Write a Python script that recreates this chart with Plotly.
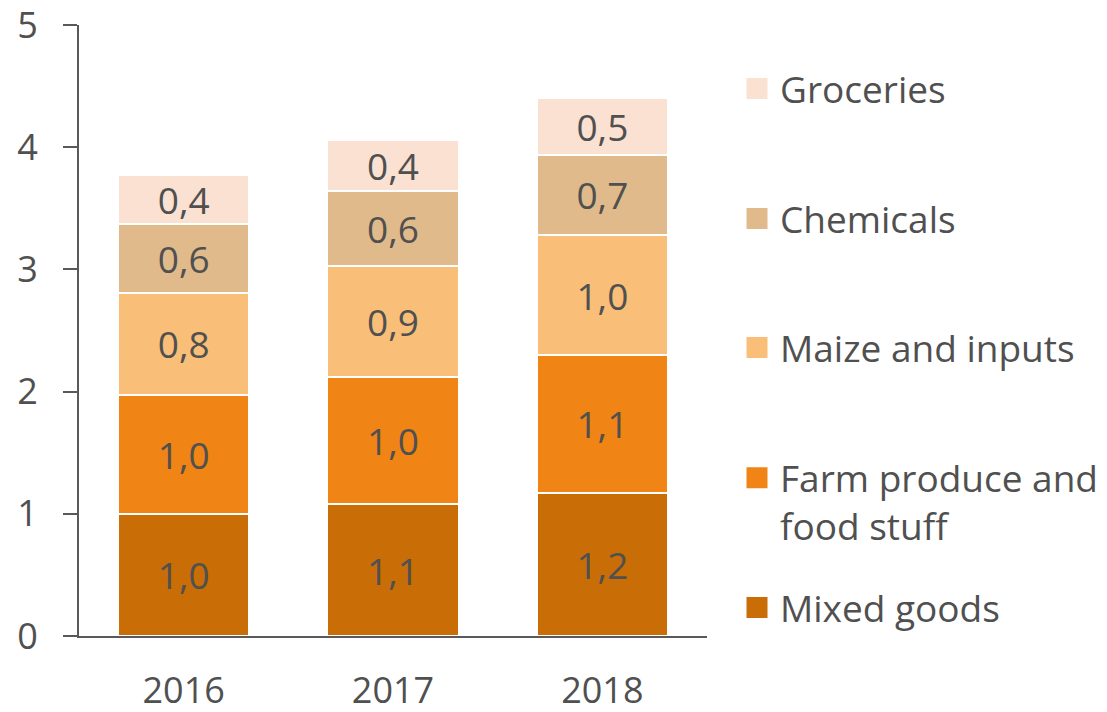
import plotly.graph_objects as go

years = ["2016", "2017", "2018"]
mixed_goods = [1.00, 1.08, 1.17]
farm_produce = [0.97, 1.04, 1.13]
maize_inputs = [0.84, 0.91, 0.98]
chemicals = [0.56, 0.61, 0.66]
groceries = [0.40, 0.42, 0.46]
y_ticks = [0, 1, 2, 3, 4, 5]

series = [
    ("Mixed goods", mixed_goods, "#C96D06"),
    ("Farm produce and<br>food stuff", farm_produce, "#F08415"),
    ("Maize and inputs", maize_inputs, "#F9BE78"),
    ("Chemicals", chemicals, "#E0BA8B"),
    ("Groceries", groceries, "#FBE1D2"),
]

TXT = "#505050"
FONT = "Open Sans"

fig = go.Figure()
for name, vals, col in series:
    fig.add_trace(go.Bar(
        x=years, y=vals, name=name, marker=dict(color=col, line=dict(color="white", width=2)),
        texttemplate="%{y:.1f}", textposition="inside", insidetextanchor="middle",
        textangle=0, textfont=dict(family=FONT, size=37, color=TXT),
        showlegend=False, hoverinfo="skip",
    ))

# legend entries (one legend per series, positioned like the reference)
legend_ids = ["legend", "legend2", "legend3", "legend4", "legend5"]
legend_y = [0.0458, 0.219, 0.4714, 0.6825, 0.8953]
for (name, vals, col), lid in zip(series, legend_ids):
    fig.add_trace(go.Scatter(
        x=[None], y=[None], mode="markers", name=name, legend=lid,
        marker=dict(symbol="square", size=16, color=col, line=dict(color=col, width=5)),
        showlegend=True,
    ))

layout_legends = {}
for lid, ly in zip(legend_ids, legend_y):
    layout_legends[lid] = dict(
        x=1.043, xanchor="left", y=ly, yanchor="middle",
        font=dict(family=FONT, size=37, color=TXT), bgcolor="rgba(0,0,0,0)",
        valign="top", itemwidth=36,
    )

# page body has an 8px margin, so the figure is 8px smaller on each axis
fig.update_layout(
    width=1099, height=704,
    margin=dict(l=71, r=400, t=17, b=76, autoexpand=False),
    barmode="stack", bargap=0.373,
    plot_bgcolor="white", paper_bgcolor="white",
    separators=",.",
    font=dict(family=FONT, color=TXT),
    uniformtext=dict(minsize=37, mode="show"),
    xaxis=dict(
        range=[-0.5, 2.5], showline=True, linecolor="#595959", linewidth=2,
        ticks="", showgrid=False, zeroline=False, automargin=False,
        ticklabeloverflow="allow",
        tickfont=dict(family=FONT, size=36, color=TXT), ticklabelstandoff=22,
    ),
    yaxis=dict(
        range=[0, 5], tickmode="array", tickvals=y_ticks, showline=True,
        linecolor="#595959", linewidth=2, automargin=False,
        ticks="outside", ticklen=14, tickwidth=2, tickcolor="#595959",
        showgrid=False, zeroline=False, ticklabeloverflow="allow",
        tickfont=dict(family=FONT, size=36, color=TXT), ticklabelstandoff=18,
    ),
    **layout_legends,
)

fig.write_html("out.html")
